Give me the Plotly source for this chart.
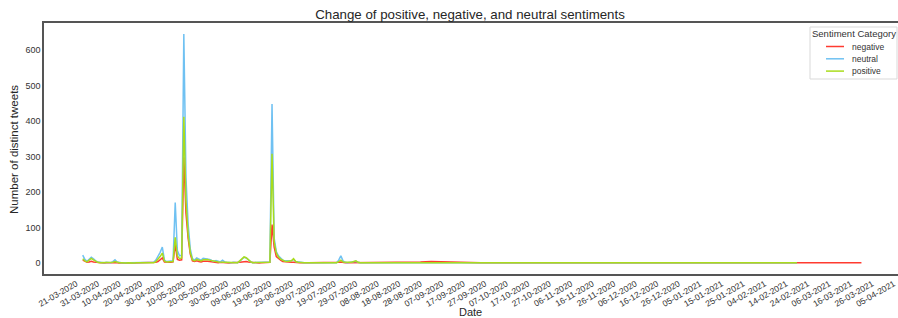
import pandas as pd
import plotly.graph_objects as go

# ---- data ----
early_start = "2020-03-24"
early_end = "2020-07-31"

neg_early = [8, 4, 2, 3, 5, 3, 2, 1,
             1, 1, 0, 1, 0, 1, 1, 2, 1,
             0, 1, 0, 0, 1, 0, 0, 0, 1, 0, 0, 0, 1, 0, 0, 1,
             1, 2, 4, 8, 14,
             3, 2, 2, 2, 3, 52, 10, 8, 9, 298, 140, 70, 25, 6, 4, 6, 4, 3, 5, 6, 5, 4, 3, 2, 2, 1, 2, 1, 1, 1, 0,
             1, 1, 0, 1, 2, 3, 4, 4, 3, 2,
             1, 1, 1, 0, 1, 1, 1, 1, 2, 108, 45, 18, 12, 8, 4, 3, 2, 2, 2, 2,
             1, 1, 1, 1, 0, 1, 1, 1, 0, 1, 1, 1, 1, 0, 1, 1, 1, 1, 0, 1,
             2, 3, 1, 1, 1, 1, 1, 2, 3, 1, 1]
neu_early = [22, 10, 5, 12, 16, 12, 6, 3,
             2, 1, 1, 2, 1, 1, 4, 9, 3,
             1, 1, 1, 0, 1, 1, 1, 0, 1, 1, 1, 1, 2, 1, 1, 1,
             2, 8, 18, 30, 45,
             8, 4, 4, 5, 6, 170, 35, 20, 22, 645, 240, 110, 40, 12, 8, 14, 10, 8, 13, 12, 13, 10, 7, 5, 7, 4, 3, 8, 3, 2, 1,
             1, 2, 1, 1, 5, 10, 16, 14, 8, 4,
             1, 1, 1, 1, 1, 1, 1, 1, 3, 448, 70, 32, 20, 14, 8, 6, 5, 6, 6, 10,
             4, 3, 1, 2, 1, 1, 1, 1, 1, 1, 2, 1, 1, 1, 1, 1, 1, 2, 1, 1,
             8, 20, 6, 2, 1, 2, 2, 3, 5, 2, 1]
pos_early = [12, 6, 3, 8, 13, 9, 5, 2,
             1, 1, 1, 1, 1, 1, 2, 4, 2,
             1, 1, 0, 0, 1, 0, 1, 0, 1, 1, 0, 1, 1, 0, 1, 1,
             1, 4, 10, 18, 28,
             5, 3, 3, 3, 4, 72, 20, 12, 14, 412, 175, 80, 30, 9, 6, 10, 7, 6, 9, 10, 10, 8, 6, 4, 4, 3, 3, 3, 2, 1, 1,
             1, 1, 1, 1, 6, 12, 17, 15, 9, 4,
             1, 1, 1, 1, 1, 1, 1, 1, 2, 308, 60, 28, 17, 11, 7, 5, 4, 5, 6, 12,
             4, 2, 1, 1, 1, 1, 2, 1, 1, 1, 1, 1, 1, 1, 1, 1, 1, 1, 1, 1,
             4, 8, 3, 2, 1, 2, 2, 4, 6, 2, 1]

late_dates = ["2020-08-10", "2020-08-20", "2020-08-28", "2020-09-02", "2020-09-08",
              "2020-09-15", "2020-09-25", "2020-10-10", "2020-10-30", "2020-11-20",
              "2020-12-15", "2021-01-10", "2021-02-01", "2021-02-19", "2021-02-24",
              "2021-03-05", "2021-03-21"]
neg_late = [1, 1, 3, 4, 3, 2, 1, 1, 1, 1, 1, 1, 1, 1, 1, 1, 1]
neu_late = [1, 1, 2, 1, 1, 1, 1, 1, 1, 1, 1, 1, 1, 1, None, None, None]
pos_late = [1, 1, 2, 2, 1, 1, 1, 1, 1, 1, 1, 1, 1, 1, None, None, None]

# x tick dates (every 10 days, 21-03-2020 .. 05-04-2021)
tick_dates = [d.strftime("%Y-%m-%d") for d in pd.date_range("2020-03-21", "2021-04-05", freq="10D")]
y_ticks = [0, 100, 200, 300, 400, 500, 600]

categories = ["negative", "neutral", "positive"]
colors = {"negative": "#ff3b30", "neutral": "#6fc1f2", "positive": "#a9dc1c"}

early_dates = [d.strftime("%Y-%m-%d") for d in pd.date_range(early_start, early_end)]
dates = early_dates + late_dates
series = {
    "negative": neg_early + neg_late,
    "neutral": neu_early + neu_late,
    "positive": pos_early + pos_late,
}

FONT = "Liberation Sans, Arial, sans-serif"
W, H = 898, 318
L, R, T, B = 44, 898, 23, 274
PW, PH = R - L, B - T


def px(x):
    return (x - L) / PW


def py(y):
    return (B - y) / PH


fig = go.Figure()
for cat in categories:
    fig.add_trace(go.Scatter(x=dates, y=series[cat], mode="lines", name=cat,
                             line=dict(color=colors[cat], width=1.5), showlegend=False))

fig.update_layout(
    width=W, height=H,
    margin=dict(l=L, r=W - R, t=T, b=H - B, autoexpand=False),
    paper_bgcolor="white", plot_bgcolor="white",
    font=dict(family=FONT, color="#333333", size=9),
    title=dict(text="Change of positive, negative, and neutral sentiments",
               x=470 / W, xanchor="center", y=1 - 14 / H, yanchor="middle",
               font=dict(size=13.3, color="#262626", family=FONT)),
    showlegend=False,
)

fig.update_xaxes(
    type="date", range=["2020-03-06", "2021-04-07"],
    tickvals=tick_dates, tickformat="%d-%m-%Y",
    tickangle=-30, showgrid=False, zeroline=False, automargin=False,
    ticklabeloverflow="allow",
    showline=True, mirror=True, linecolor="#555555", linewidth=1.5,
    ticks="", tickfont=dict(size=8.5, color="#333"),
)
fig.update_yaxes(
    range=[-31, 676], tickvals=y_ticks, automargin=False,
    showgrid=False, zeroline=False,
    showline=True, mirror=True, linecolor="#555555", linewidth=1.5,
    ticks="", tickfont=dict(size=9, color="#333"),
)

# axis titles
fig.add_annotation(text="Number of distinct tweets", xref="paper", yref="paper",
                   x=px(14), y=py(150), xanchor="center", yanchor="middle", textangle=-90,
                   showarrow=False, font=dict(size=11.5, color="#262626", family=FONT))
fig.add_annotation(text="Date", xref="paper", yref="paper",
                   x=px(470), y=py(304), xanchor="center", yanchor="top",
                   showarrow=False, font=dict(size=11, color="#262626", family=FONT))

# legend (drawn as box + samples + text)
fig.add_shape(type="rect", xref="paper", yref="paper",
              x0=px(810), x1=px(897), y0=py(79), y1=py(27),
              line=dict(color="#d9d9d9", width=1), fillcolor="rgba(255,255,255,0.9)", layer="above")
fig.add_annotation(text="Sentiment Category", xref="paper", yref="paper",
                   x=px(853.5), y=py(34), xanchor="center", yanchor="middle",
                   showarrow=False, font=dict(size=9.5, color="#333", family=FONT))
for i, cat in enumerate(categories):
    yy = 46.5 + i * 12.3
    fig.add_shape(type="line", xref="paper", yref="paper",
                  x0=px(826), x1=px(844), y0=py(yy), y1=py(yy),
                  line=dict(color=colors[cat], width=1.5), layer="above")
    fig.add_annotation(text=cat, xref="paper", yref="paper",
                       x=px(850), y=py(yy), xanchor="left", yanchor="middle",
                       showarrow=False, font=dict(size=8.5, color="#333", family=FONT))

fig.write_html("out.html", config={"displayModeBar": False},
               post_script="document.body.style.margin='0';")
